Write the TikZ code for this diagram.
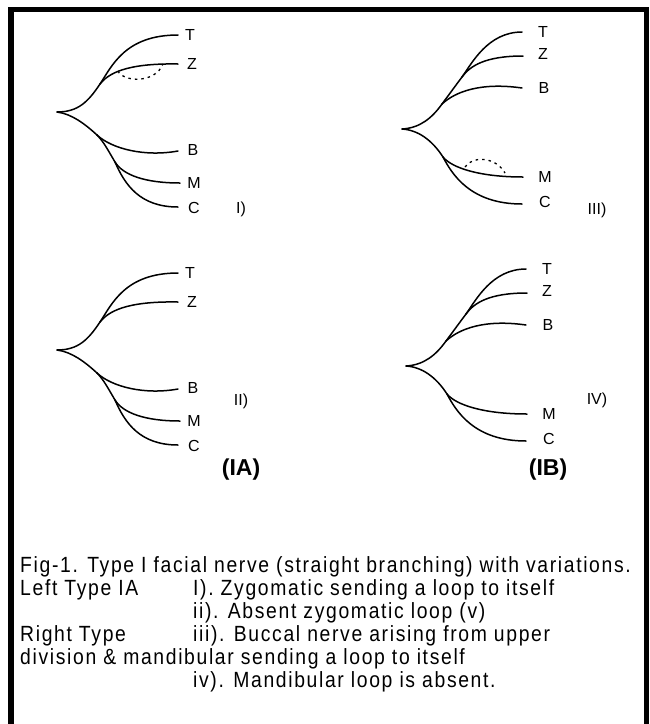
\documentclass[tikz,border=0pt]{standalone}
\usepackage{fontspec}
\setmainfont{Liberation Sans}
\begin{document}
\begin{tikzpicture}[x=1pt,y=-1pt,
  nerve/.style={line width=1.5pt, line cap=round},
  loopline/.style={line width=1.3pt, dash pattern=on 2.5pt off 4pt},
  lbl/.style={font=\fontsize{16}{19}\selectfont, inner sep=0pt},
  panellbl/.style={font=\fontsize{23}{26}\selectfont\bfseries, inner sep=0pt},
  captionline/.style={font=\fontsize{22}{24}\selectfont\addfontfeatures{FakeStretch=0.88,LetterSpace=7.5}, anchor=base west, inner sep=0pt},
  treeA/.pic={
    \coordinate (-R) at (0,0);
    \coordinate (-U) at (43,-28);
    \coordinate (-L1) at (40,23);
    \coordinate (-L2) at (58,50);
    \coordinate (-T) at (121,-77);
    \coordinate (-Z) at (121,-48);
    \coordinate (-B) at (121,39);
    \coordinate (-M) at (123,71);
    \coordinate (-C) at (121,95);
    \node[lbl] (-Tl) at (133,-77) {T};
    \node[lbl] (-Zl) at (135,-48) {Z};
    \node[lbl] (-Bl) at (136,38) {B};
    \node[lbl] (-Ml) at (137,71) {M};
    \node[lbl] (-Cl) at (137,96) {C};
    \draw[nerve] (-R) .. controls (21,0) and (31,-10) .. (-U);
    \draw[nerve] (-U) .. controls (55,-46) and (68,-77) .. (-T);
    \draw[nerve] (-U) .. controls (51,-38) and (68,-49) .. (-Z);
    \draw[nerve] (-R) .. controls (15,2) and (28,12) .. (-L1);
    \draw[nerve] (-L1) .. controls (55,37) and (88,45) .. (-B);
    \draw[nerve] (-L1) .. controls (47,30) and (52,40) .. (-L2);
    \draw[nerve] (-L2) .. controls (66,63) and (88,71) .. (-M);
    \draw[nerve] (-L2) .. controls (68,73) and (83,95) .. (-C);
  },
  treeB/.pic={
    \coordinate (-R) at (0,0);
    \coordinate (-U1) at (40,-25);
    \coordinate (-U2) at (60,-52);
    \coordinate (-L) at (41,28);
    \coordinate (-T) at (120,-97);
    \coordinate (-Z) at (121,-73);
    \coordinate (-B) at (120,-41);
    \coordinate (-M) at (121,48);
    \coordinate (-C) at (120,75);
    \node[lbl] (-Tl) at (141,-97) {T};
    \node[lbl] (-Zl) at (141,-75) {Z};
    \node[lbl] (-Bl) at (142,-41) {B};
    \node[lbl] (-Ml) at (143,48) {M};
    \node[lbl] (-Cl) at (143,73) {C};
    \draw[nerve] (-R) .. controls (18,-1) and (30,-11) .. (-U1);
    \draw[nerve] (-U1) .. controls (46,-33) and (54,-44) .. (-U2);
    \draw[nerve] (-U2) .. controls (70,-66) and (86,-97) .. (-T);
    \draw[nerve] (-U2) .. controls (68,-63) and (83,-73) .. (-Z);
    \draw[nerve] (-U1) .. controls (53,-37) and (78,-47) .. (-B);
    \draw[nerve] (-R) .. controls (16,1) and (30,11) .. (-L);
    \draw[nerve] (-L) .. controls (50,39) and (78,48) .. (-M);
    \draw[nerve] (-L) .. controls (50,45) and (68,75) .. (-C);
  }]
\useasboundingbox (0,0) rectangle (649,724);
\clip (0,0) rectangle (649,724);
\fill[white] (0,0) rectangle (649,724);
\draw[line width=5.5pt] (11,740) -- (11,9.5) -- (646.5,9.5) -- (646.5,740);

% panels
\pic (pI) at (57,112) {treeA};
\pic (pII) at (57,350) {treeA};
\pic (pIII) at (402,129) {treeB};
\pic (pIV) at (406,366) {treeB};

% loops
\coordinate (loopIa) at (118,71);
\coordinate (loopIb) at (163,64);
\draw[loopline] (loopIa) .. controls (123,82) and (155,84) .. (loopIb);
\coordinate (loopIIIa) at (465,167);
\coordinate (loopIIIb) at (505,173);
\draw[loopline] (loopIIIa) .. controls (472,156) and (495,156) .. (loopIIIb);

% roman labels
\node[lbl] (rI) at (241,209) {I)};
\node[lbl] (rII) at (241,401) {II)};
\node[lbl] (rIII) at (597,210) {III)};
\node[lbl] (rIV) at (597,400) {IV)};
\node[panellbl] (IA) at (241,470) {(IA)};
\node[panellbl] (IB) at (548,470) {(IB)};

% caption
\node[captionline] (c1) at (20,572) {Fig-1. Type I facial nerve (straight branching) with variations.};
\node[captionline] (c2a) at (20,595) {Left Type IA};
\node[captionline] (c2b) at (193,595) {I). Zygomatic sending a loop to itself};
\node[captionline] (c3) at (193,618) {ii). Absent zygomatic loop (v)};
\node[captionline] (c4a) at (20,641) {Right Type};
\node[captionline] (c4b) at (193,641) {iii). Buccal nerve arising from upper};
\node[captionline] (c5) at (20,664) {division \& mandibular sending a loop to itself};
\node[captionline] (c6) at (193,687) {iv). Mandibular loop is absent.};
\end{tikzpicture}
\end{document}
